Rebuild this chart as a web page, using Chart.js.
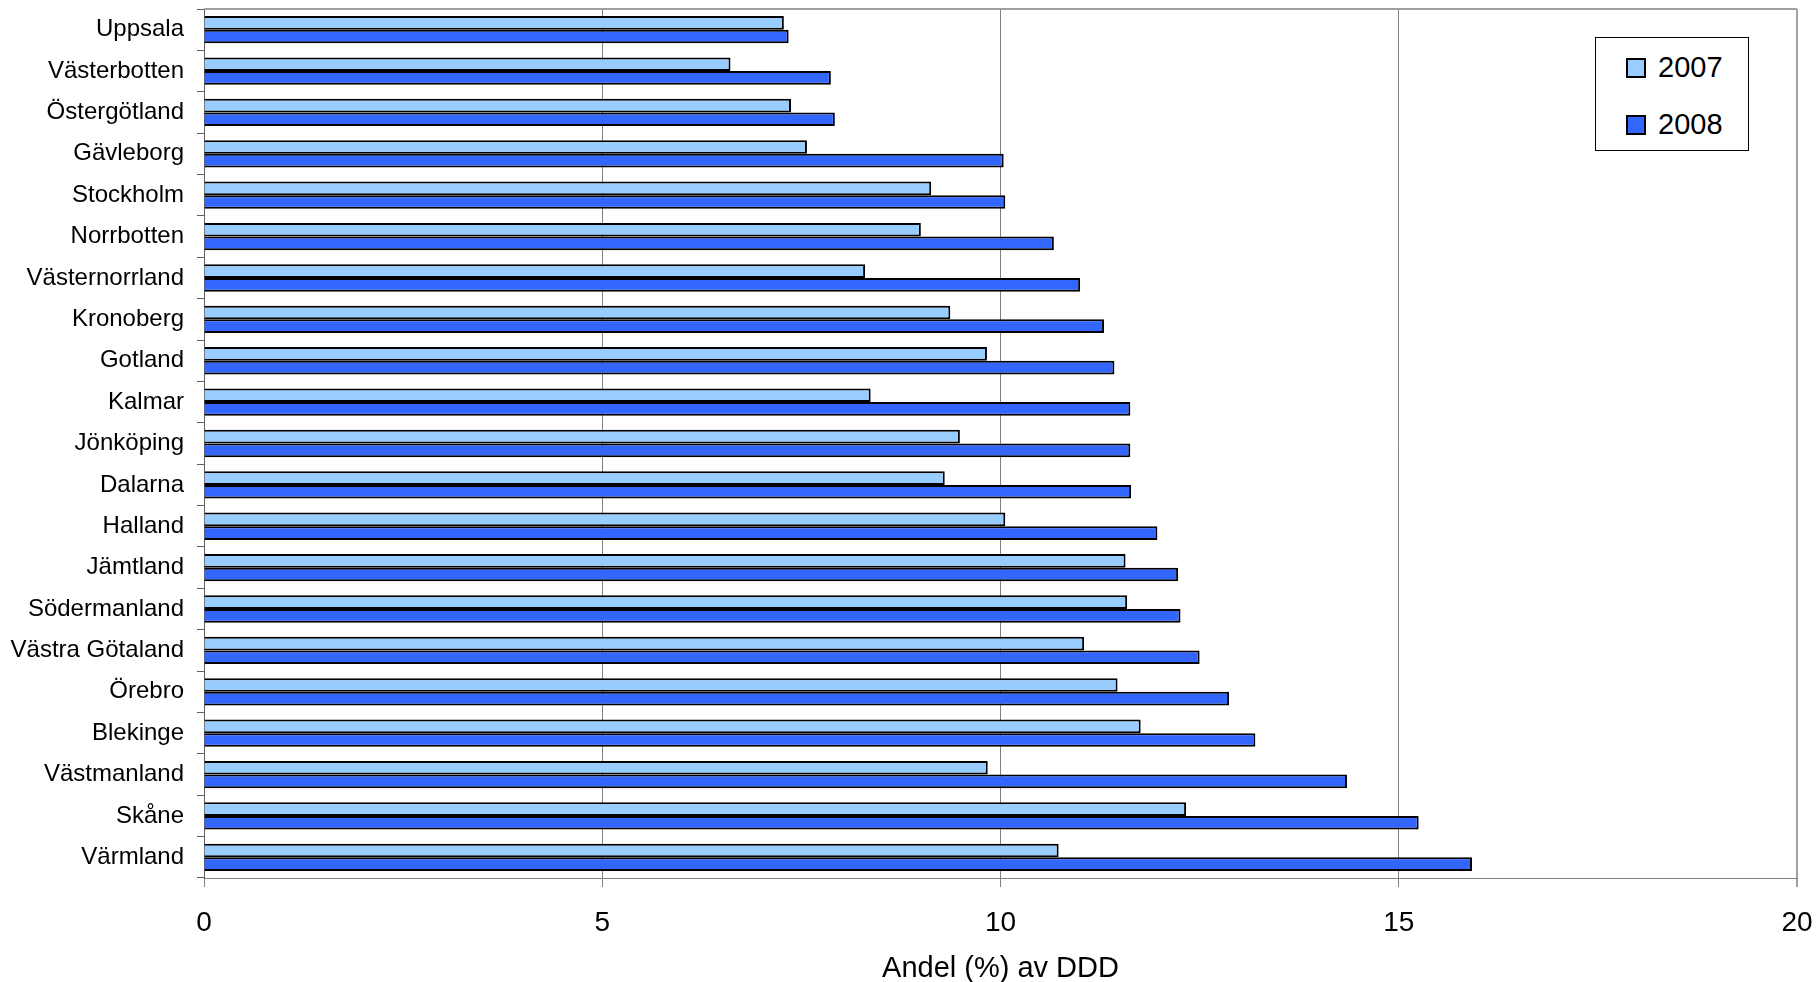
<!DOCTYPE html>
<html>
<head>
<meta charset="utf-8">
<script src="https://cdn.jsdelivr.net/npm/chart.js@4.4.0/dist/chart.umd.min.js"></script>
<style>
  body { margin: 0; background: #fff; }
  #wrap { position: relative; width: 1818px; height: 982px; }
  #legend {
    position: absolute; left: 1595px; top: 37px; width: 152px; height: 112px;
    border: 1px solid #000; background: #fff;
    font-family: "Liberation Sans", Arial, sans-serif; font-size: 29px; color: #000;
  }
  .item { position: absolute; left: 30px; height: 34px; line-height: 34px; }
  .item span.box { position: absolute; left: 0; top: 8px; width: 16px; height: 16px; border: 2px solid #000; }
  .item span.txt { position: absolute; left: 32px; top: 0; }
</style>
</head>
<body>
<div id="wrap">
  <canvas id="c" width="1818" height="982"></canvas>
  <div id="legend"></div>
</div>
<script>
// regions, top to bottom
const regions = ['Uppsala', 'Västerbotten', 'Östergötland', 'Gävleborg', 'Stockholm', 'Norrbotten',
  'Västernorrland', 'Kronoberg', 'Gotland', 'Kalmar', 'Jönköping', 'Dalarna', 'Halland', 'Jämtland',
  'Södermanland', 'Västra Götaland', 'Örebro', 'Blekinge', 'Västmanland', 'Skåne', 'Värmland'];

const values2007 = [7.28, 6.61, 7.37, 7.57, 9.13, 9.0, 8.30, 9.37, 9.83, 8.37, 9.49, 9.30, 10.06,
  11.57, 11.59, 11.05, 11.47, 11.76, 9.84, 12.33, 10.73];
const values2008 = [7.34, 7.87, 7.92, 10.04, 10.06, 10.67, 11.0, 11.30, 11.43, 11.63, 11.63, 11.64,
  11.97, 12.23, 12.26, 12.50, 12.87, 13.20, 14.35, 15.25, 15.92];

const xTicks = [0, 5, 10, 15, 20];
const years = ['2007', '2008'];
const colors = ['#99CCFF', '#3366FF'];

const font = "'Liberation Sans', Arial, sans-serif";

// top border of the plot
const frame = {
  id: 'frame',
  afterDraw(chart) {
    const a = chart.chartArea, ctx = chart.ctx;
    ctx.save();
    ctx.strokeStyle = '#a0a0a0';
    ctx.lineWidth = 2;
    ctx.beginPath();
    ctx.moveTo(a.left, a.top);
    ctx.lineTo(a.right, a.top);
    ctx.stroke();
    ctx.restore();
  }
};

const chart = new Chart(document.getElementById('c'), {
  type: 'bar',
  data: {
    labels: regions,
    datasets: [
      { label: years[0], data: values2007, backgroundColor: colors[0], borderColor: '#000', borderWidth: 2 },
      { label: years[1], data: values2008, backgroundColor: colors[1], borderColor: '#000', borderWidth: 2 }
    ]
  },
  options: {
    indexAxis: 'y',
    responsive: false,
    devicePixelRatio: 1,
    animation: false,
    layout: { padding: { top: 9, right: 21, left: 0, bottom: 0 } },
    datasets: { bar: { categoryPercentage: 0.66, barPercentage: 1 } },
    plugins: { legend: { display: false }, tooltip: { enabled: false } },
    scales: {
      x: {
        min: 0, max: 20,
        afterBuildTicks(s) { s.ticks = xTicks.map(v => ({ value: v })); },
        afterFit(s) { s.height = 104; s.paddingLeft = 0; s.paddingRight = 0; },
        grid: {
          color: ctx => ctx.tick && ctx.tick.value === 20 ? '#a0a0a0' : '#808080',
          lineWidth: ctx => ctx.tick && ctx.tick.value === 20 ? 2 : 1,
          tickLength: 9
        },
        border: { color: '#808080', width: 1 },
        ticks: { color: '#000', font: { family: font, size: 28 }, padding: 19 },
        title: { display: true, text: 'Andel (%) av DDD', color: '#000',
          font: { family: font, size: 29 }, padding: { top: 0, bottom: -4 } }
      },
      y: {
        afterFit(s) { s.width = 204; s.paddingTop = 0; s.paddingBottom = 0; },
        grid: { drawOnChartArea: false, offset: true, tickLength: 7, color: '#606060' },
        border: { color: '#606060', width: 1 },
        ticks: { color: '#000', font: { family: font, size: 24 }, padding: 13, autoSkip: false }
      }
    }
  },
  plugins: [frame]
});

// legend box
const lg = document.getElementById('legend');
chart.data.datasets.forEach((ds, i) => {
  const it = document.createElement('div');
  it.className = 'item';
  it.style.top = (12 + i * 57) + 'px';
  it.innerHTML = '<span class="box" style="background:' + ds.backgroundColor + '"></span><span class="txt">' + ds.label + '</span>';
  lg.appendChild(it);
});
</script>
</body>
</html>
